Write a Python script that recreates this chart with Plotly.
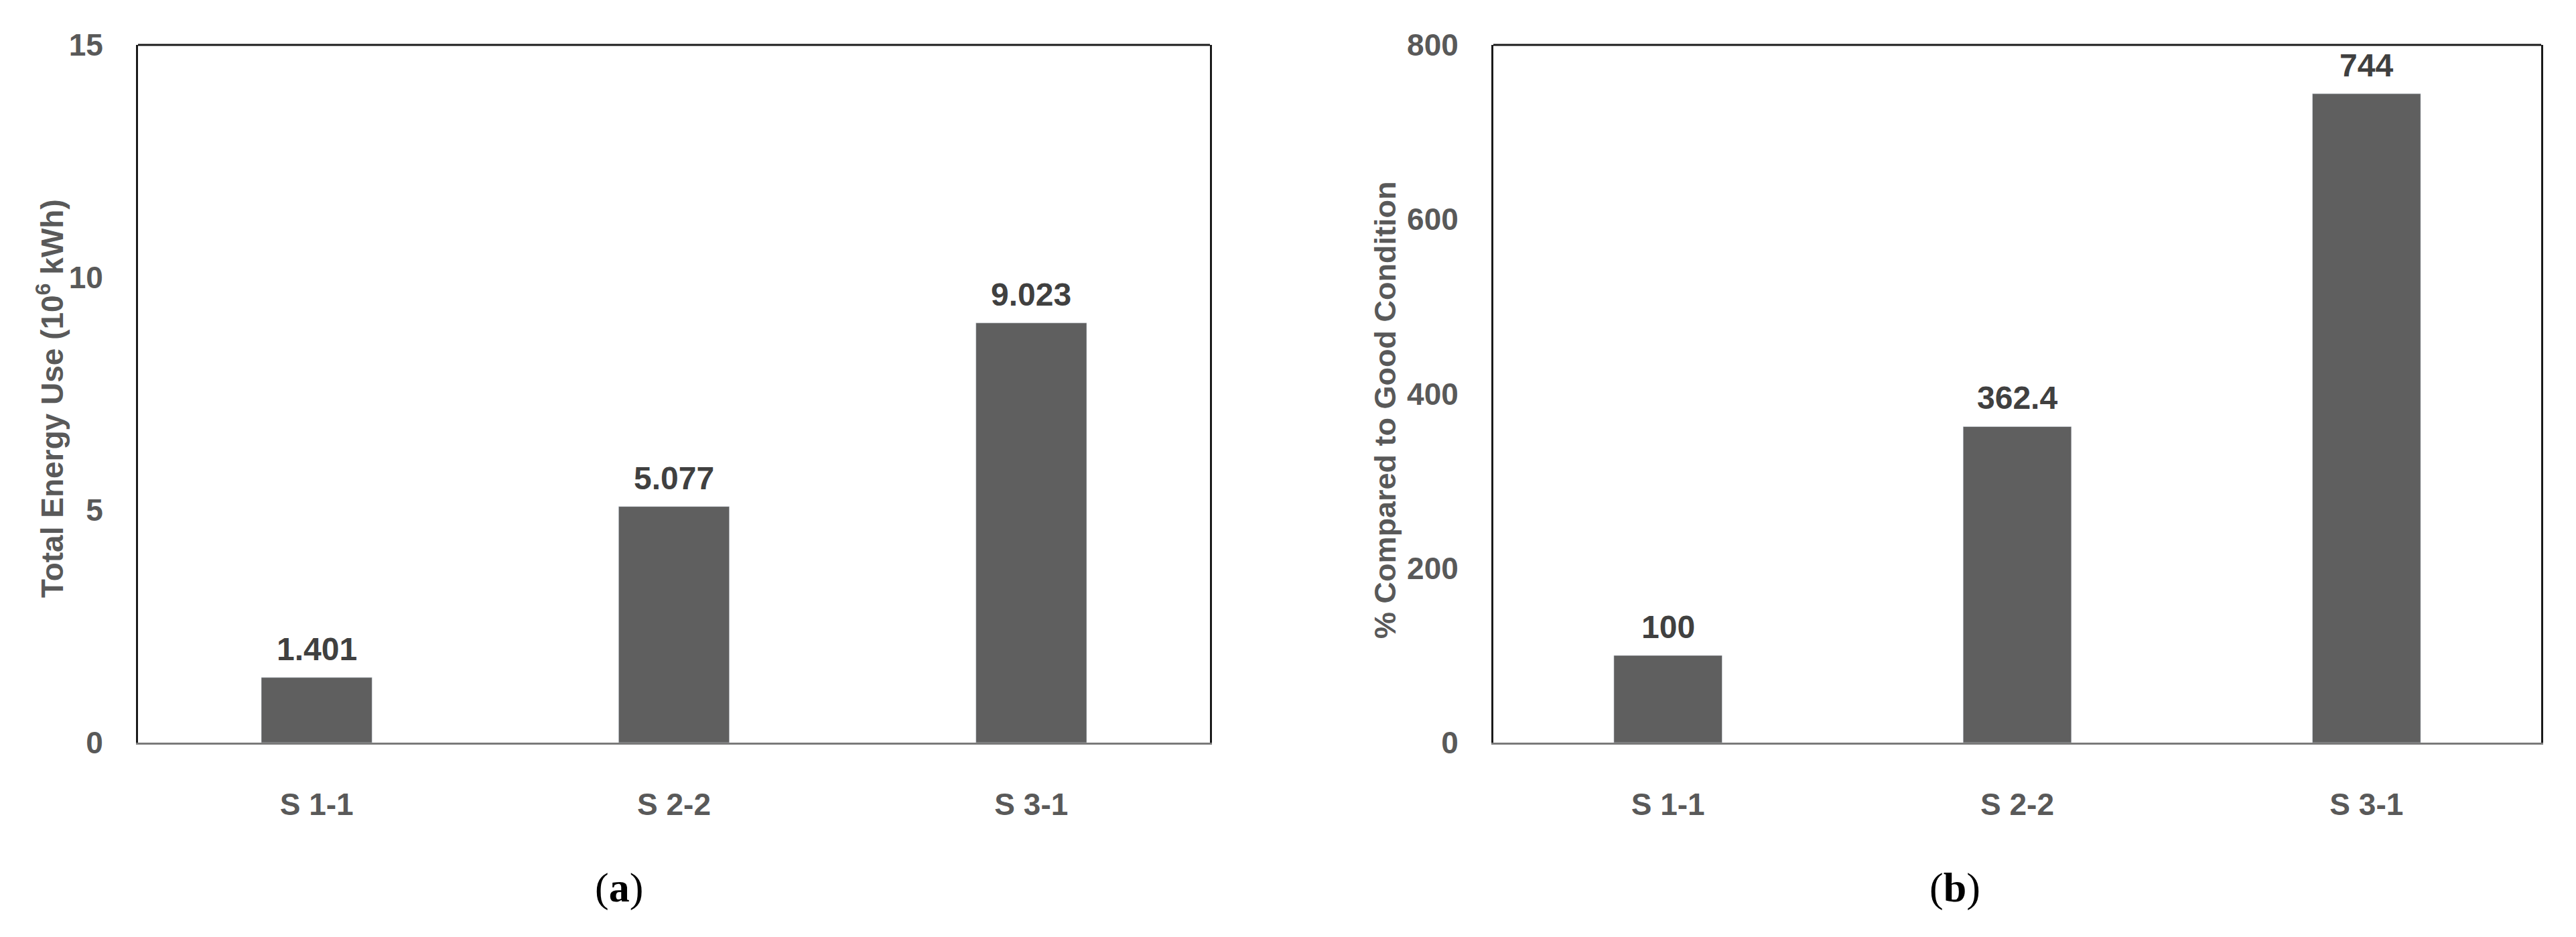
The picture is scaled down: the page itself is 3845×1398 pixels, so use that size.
import plotly.graph_objects as go

W, H = 3845, 1398
OFF = 8  # page body margin shifts the figure by this much

categories = ["S 1-1", "S 2-2", "S 3-1"]
energy_use = [1.401, 5.077, 9.023]
energy_labels = ["1.401", "5.077", "9.023"]
pct_good = [100, 362.4, 744]
pct_labels = ["100", "362.4", "744"]

BAR = "#5f5f5f"
TXT = "#595959"
LBL = "#404040"
FONT = "Liberation Sans"


def px_x(p):
    return (p - OFF) / W


def px_y(p):
    return 1 - (p - OFF) / H


fig = go.Figure()
fig.add_trace(go.Bar(x=categories, y=energy_use, marker_color=BAR, width=0.31,
                     xaxis="x", yaxis="y", showlegend=False))
fig.add_trace(go.Bar(x=categories, y=pct_good, marker_color=BAR, width=0.31,
                     xaxis="x2", yaxis="y2", showlegend=False))

ydom = [px_y(1108), px_y(67)]
axis_font = dict(family=FONT, size=46, color=TXT, weight="bold")

xcommon = dict(showline=True, linecolor="#7a7a7a", linewidth=3, ticks="",
               showgrid=False, tickfont=axis_font, ticklabelstandoff=50,
               automargin=False, fixedrange=True)
ycommon = dict(showline=True, linecolor="#1a1a1a", linewidth=3, mirror=True,
               ticks="", showgrid=False, zeroline=False, tickfont=axis_font,
               ticklabelstandoff=40, automargin=False)

fig.update_layout(
    width=W, height=H,
    margin=dict(l=0, r=0, t=0, b=0),
    paper_bgcolor="white", plot_bgcolor="white",
    xaxis=dict(domain=[px_x(206), px_x(1806)], anchor="y", **xcommon),
    yaxis=dict(domain=ydom, anchor="x", range=[0, 15], dtick=5, **ycommon),
    xaxis2=dict(domain=[px_x(2229), px_x(3793)], anchor="y2", **xcommon),
    yaxis2=dict(domain=ydom, anchor="x2", range=[0, 800], dtick=200, **ycommon),
    font=dict(family=FONT, color=TXT),
)

# top border of each frame
for xr, yr in (("x", "y"), ("x2", "y2")):
    fig.add_shape(type="line", xref=f"{xr} domain", yref=f"{yr} domain",
                  x0=0, x1=1, y0=1, y1=1, line=dict(color="#1a1a1a", width=3))

# value labels above bars
for xa, ya, vals, labs in (("x", "y", energy_use, energy_labels),
                           ("x2", "y2", pct_good, pct_labels)):
    for c, v, t in zip(categories, vals, labs):
        fig.add_annotation(x=c, y=v, xref=xa, yref=ya, text=f"<b>{t}</b>",
                           showarrow=False, yanchor="bottom", yshift=14,
                           font=dict(family=FONT, size=48, color=LBL))

# axis titles
fig.add_annotation(x=px_x(75), y=px_y(595), xref="paper", yref="paper",
                   text="<b>Total Energy Use (10<sup>6</sup> kWh)</b>",
                   textangle=-90, showarrow=False, xanchor="center", yanchor="middle",
                   font=dict(family=FONT, size=46, color=TXT))
fig.add_annotation(x=px_x(2068), y=px_y(612), xref="paper", yref="paper",
                   text="<b>% Compared to Good Condition</b>",
                   textangle=-90, showarrow=False, xanchor="center", yanchor="middle",
                   font=dict(family=FONT, size=45, color=TXT))

# panel letters
for xc, letter in ((924, "a"), (2918, "b")):
    fig.add_annotation(x=px_x(xc), y=px_y(1324), xref="paper", yref="paper",
                       text=f"(<b>{letter}</b>)", showarrow=False,
                       xanchor="center", yanchor="middle",
                       font=dict(family="Liberation Serif", size=62, color="black"))

fig.write_html("out.html")
